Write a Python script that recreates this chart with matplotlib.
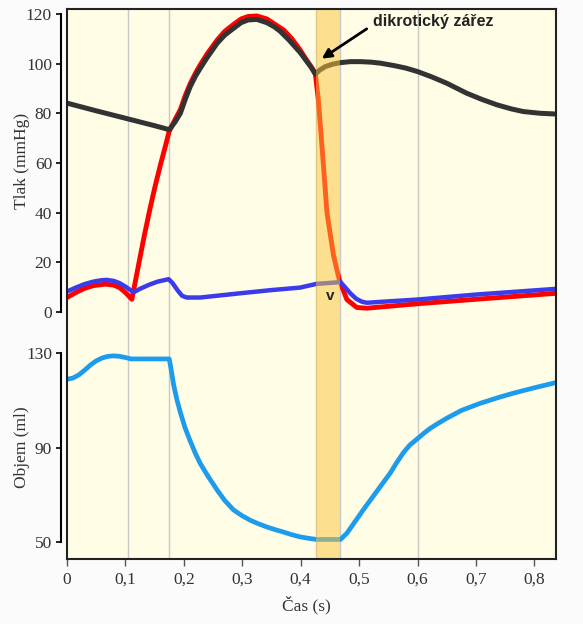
import numpy as np
import matplotlib
matplotlib.use("Agg")
import matplotlib.pyplot as plt

# ---- data (time in s) ----
# left ventricle pressure (mmHg)
t_lv = [0.0, 0.015, 0.03, 0.045, 0.066, 0.08, 0.09, 0.10, 0.111,
        0.118, 0.125, 0.133, 0.142, 0.151, 0.16, 0.168, 0.175,
        0.185, 0.194, 0.203, 0.211, 0.22, 0.228, 0.24, 0.257, 0.27, 0.285,
        0.298, 0.31, 0.325, 0.342, 0.355, 0.371, 0.385, 0.399, 0.41, 0.42,
        0.425, 0.43, 0.437, 0.445, 0.456, 0.466, 0.479, 0.496, 0.513,
        0.6, 0.7, 0.837]
p_lv = [5.8, 7.8, 9.5, 10.6, 11.2, 10.8, 9.8, 7.8, 5.1,
        13.5, 22.0, 31.5, 41.5, 50.8, 59.3, 66.4, 72.8,
        77.5, 81.5, 87.5, 92.0, 96.2, 99.5, 104.0, 109.5, 113.0, 115.8,
        118.0, 119.0, 119.2, 118.0, 116.0, 113.5, 110.0, 105.5, 101.5, 98.0,
        96.0, 86.0, 65.0, 40.0, 23.0, 13.0, 5.0, 1.8, 1.5,
        3.3, 5.1, 7.5]

# aortic pressure (mmHg)
t_ao = [0.0, 0.05, 0.10, 0.15, 0.175, 0.185, 0.194, 0.203, 0.211, 0.22, 0.228,
        0.24, 0.257, 0.27, 0.285, 0.298, 0.31, 0.325, 0.342, 0.355, 0.365,
        0.38, 0.399, 0.41, 0.418, 0.425, 0.432, 0.442, 0.455, 0.468, 0.485,
        0.502, 0.52, 0.536, 0.56, 0.58, 0.60, 0.625, 0.65, 0.684, 0.71,
        0.736, 0.76, 0.781, 0.81, 0.837]
p_ao = [84.1, 81.0, 78.0, 75.0, 73.4, 76.5, 80.0, 86.0, 90.8, 95.0, 98.1,
        102.5, 108.2, 111.5, 114.2, 116.5, 117.6, 117.8, 116.5, 114.8, 113.0,
        109.5, 104.5, 101.0, 98.5, 95.8, 97.3, 98.8, 99.8, 100.4, 100.8,
        100.8, 100.6, 100.2, 99.2, 98.2, 96.8, 94.6, 92.1, 88.1, 85.6,
        83.4, 81.8, 80.7, 80.0, 79.7]

# left atrial pressure (mmHg)
t_la = [0.0, 0.015, 0.03, 0.045, 0.06, 0.068, 0.08, 0.09, 0.10, 0.114,
        0.125, 0.14, 0.155, 0.174, 0.18, 0.19, 0.197, 0.205, 0.228,
        0.3, 0.35, 0.399, 0.427, 0.468, 0.475, 0.485, 0.495, 0.505, 0.513,
        0.6, 0.7, 0.837]
p_la = [8.2, 9.8, 11.2, 12.2, 12.8, 12.9, 12.5, 11.6, 10.2, 7.9,
        9.3, 10.9, 12.2, 13.2, 11.8, 8.5, 6.5, 5.8, 5.8,
        7.6, 8.8, 9.8, 11.3, 12.0, 10.2, 7.5, 5.3, 4.1, 3.7,
        5.0, 7.0, 9.3]

# ventricular volume (ml)
t_vol = [0.0, 0.01, 0.02, 0.03, 0.04, 0.05, 0.06, 0.07, 0.08, 0.09, 0.10,
         0.11, 0.175, 0.178, 0.1826, 0.188, 0.194, 0.202, 0.211, 0.22, 0.228,
         0.24, 0.257, 0.27, 0.285, 0.30, 0.314, 0.328, 0.342, 0.357, 0.371,
         0.385, 0.399, 0.413, 0.427, 0.468, 0.479, 0.507, 0.536, 0.553,
         0.565, 0.576, 0.587, 0.6015, 0.612, 0.6216, 0.635, 0.65, 0.675, 0.707,
         0.74, 0.764, 0.80, 0.837]
v_vol = [119.0, 119.5, 120.8, 122.8, 125.0, 126.8, 128.0, 128.7, 128.9, 128.7,
         128.2, 127.6, 127.6, 123.5, 116.5, 110.5, 105.0, 98.5, 92.8, 87.5, 83.4,
         78.5, 72.1, 67.7, 63.7, 61.2, 59.3, 57.8, 56.5, 55.3, 54.3,
         53.2, 52.3, 51.7, 51.2, 51.2, 53.8, 63.7, 73.5, 79.2,
         84.0, 88.0, 91.2, 94.2, 96.4, 98.2, 100.3, 102.5, 105.8, 108.8,
         111.4, 113.1, 115.4, 117.6]

phase_lines = [0.105, 0.175, 0.6]
notch_band = (0.427, 0.468)
xticks = [0, 0.1, 0.2, 0.3, 0.4, 0.5, 0.6, 0.7, 0.8]

# ---- figure ----
fig = plt.figure(figsize=(5.83, 6.24), dpi=100, facecolor="#fbfbfb")
pos = [67/583, 65/624, 489/583, 550/624]
xlim = (0, 0.837)

plt.rcParams["font.family"] = "Liberation Serif"

ax_bg = fig.add_axes(pos, zorder=0)
ax_bg.set_facecolor("#fffde5")
ax_bg.set_xlim(*xlim)
ax_bg.set_ylim(0, 1)
ax_bg.set_yticks([])
for x in phase_lines + list(notch_band):
    ax_bg.axvline(x, color="#c9c9c9", lw=1)
ax_bg.set_xticks(xticks)
ax_bg.set_xticklabels([("%g" % v).replace(".", ",") for v in xticks],
                      fontsize=12.5, color="#333333")
ax_bg.tick_params(axis="x", length=5, width=1, pad=4, color="#555555")
for s in ax_bg.spines.values():
    s.set_visible(False)
ax_bg.text(0.49, -0.084, "Čas (s)", transform=ax_bg.transAxes, ha="center",
           va="center", fontsize=12.5, color="#333333")
ax_bg.text(-0.092, 0.724, "Tlak (mmHg)", transform=ax_bg.transAxes, rotation=90,
           ha="center", va="center", fontsize=12.5, color="#333333")
ax_bg.text(-0.092, 0.203, "Objem (ml)", transform=ax_bg.transAxes, rotation=90,
           ha="center", va="center", fontsize=12.5, color="#333333")

# pressure
ax_p = fig.add_axes(pos, zorder=1)
ax_p.patch.set_visible(False)
ax_p.set_xlim(*xlim)
ax_p.set_ylim(-99.5, 122.0)
ax_p.plot(t_lv, p_lv, color="#ff0000", lw=3.5, zorder=2)
ax_p.plot(t_ao, p_ao, color="#333333", lw=3.6, zorder=3)
ax_p.plot(t_la, p_la, color="#3b3bec", lw=3.2, zorder=4)
ax_p.set_xticks([])
ax_p.set_yticks([0, 20, 40, 60, 80, 100, 120])
for s in ["top", "right", "bottom"]:
    ax_p.spines[s].set_visible(False)
ax_p.spines["left"].set_position(("outward", 4.3))
ax_p.spines["left"].set_bounds(0, 120)
ax_p.spines["left"].set_linewidth(1.5)
ax_p.tick_params(axis="y", length=3.5, width=1.2, pad=3, labelsize=12.5,
                 labelcolor="#333333")

# volume
ax_v = fig.add_axes(pos, zorder=2)
ax_v.patch.set_visible(False)
ax_v.set_xlim(*xlim)
ax_v.set_ylim(42.93, 275.7)
ax_v.plot(t_vol, v_vol, color="#1d9bec", lw=3.4)
ax_v.set_xticks([])
ax_v.set_yticks([50, 90, 130])
for s in ["top", "right", "bottom"]:
    ax_v.spines[s].set_visible(False)
ax_v.spines["left"].set_position(("outward", 4.3))
ax_v.spines["left"].set_bounds(50, 130)
ax_v.spines["left"].set_linewidth(1.5)
ax_v.tick_params(axis="y", length=3.5, width=1.2, pad=3, labelsize=12.5,
                 labelcolor="#333333")

# band + frame + annotations on top
ax_top = fig.add_axes(pos, zorder=3)
ax_top.patch.set_visible(False)
ax_top.set_xlim(*xlim)
ax_top.set_ylim(-99.5, 122.0)
ax_top.axvspan(*notch_band, color="#fbc53d", alpha=0.5, lw=0)
ax_top.set_xticks([])
ax_top.set_yticks([])
for s in ax_top.spines.values():
    s.set_color("#222222")
    s.set_linewidth(1.5)
ax_top.annotate("", xy=(0.436, 102.0), xytext=(0.513, 114.0),
                arrowprops=dict(arrowstyle="-|>", color="black", lw=2,
                                mutation_scale=14, shrinkA=0, shrinkB=0))
ax_top.text(0.524, 117.0, "dikrotický zářez", ha="left", va="center",
            fontsize=11.5, fontweight="bold", family="Liberation Sans",
            color="#222222")
ax_top.text(0.451, 6.4, "v", ha="center", va="center", fontsize=11,
            fontweight="bold", family="Liberation Sans", color="#222222")

fig.savefig("out.png", dpi=100, facecolor=fig.get_facecolor())
